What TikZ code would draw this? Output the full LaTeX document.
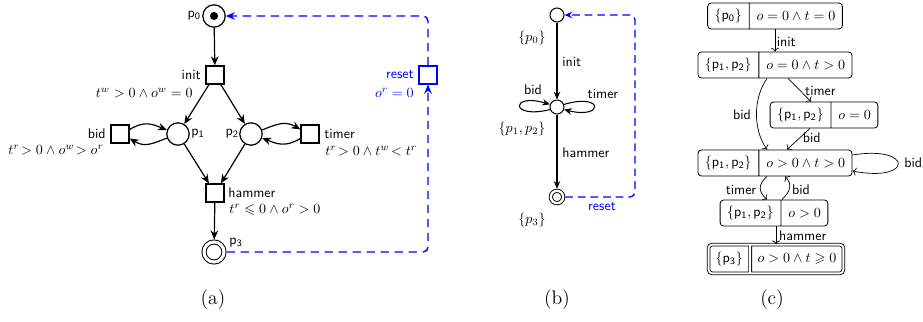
\documentclass[tikz,border=0pt]{standalone}
\usepackage{amssymb}
\usetikzlibrary{arrows.meta,shapes.multipart,calc}
\begin{document}
\begin{tikzpicture}[x=0.7143pt,y=-0.7143pt,
  lbl/.style={inner sep=0pt,font=\sffamily},
  guard/.style={inner sep=0pt},
  place/.style={circle,draw,line width=0.9pt,minimum size=16pt,inner sep=0pt},
  finalplace/.style={circle,draw,line width=0.7pt,double,double distance=2.2pt,minimum size=14.3pt,inner sep=0pt,outer sep=1.8pt},
  trans/.style={rectangle,draw,line width=0.9pt,minimum size=12.9pt,inner sep=0pt},
  arr/.style={line width=0.85pt,-{Stealth[length=6.5pt,width=5.5pt,inset=2.2pt]}},
  resetarr/.style={blue,line width=1pt,dash pattern=on 6pt off 4pt,rounded corners=3.5pt,-{Stealth[length=6.5pt,width=5.5pt,inset=2.2pt]}},
  state/.style={circle,draw,line width=0.75pt,minimum size=10pt,inner sep=0pt},
  finalstate/.style={circle,draw,line width=0.65pt,double,double distance=1.7pt,minimum size=8.8pt,inner sep=0pt,outer sep=1.5pt},
  sarr/.style={line width=0.75pt,-{Stealth[length=5.5pt,width=4.6pt,inset=1.8pt]}},
  sresetarr/.style={blue,line width=0.9pt,dash pattern=on 5.5pt off 3.5pt,rounded corners=3.5pt,-{Stealth[length=5.5pt,width=4.6pt,inset=1.8pt]}},
  zone/.style={rectangle split,rectangle split horizontal,rectangle split parts=2,draw,
    rounded corners=2.5pt,minimum height=18.6pt,inner xsep=5pt,inner ysep=0pt,line width=0.6pt},
  zarr/.style={line width=0.5pt,->},
  captext/.style={inner sep=0pt,font=\fontsize{14}{16}\selectfont}
]
\useasboundingbox (0,0) rectangle (923,322);

% ---------------- (a) Petri net ----------------
\node[place] (p0) at (214,16) {};
\fill (p0) circle (2.9pt);
\node[trans] (init) at (215,75) {};
\node[place] (p1) at (178,134) {};
\node[place] (p2) at (251,134) {};
\node[trans] (bid) at (120,134) {};
\node[trans] (timer) at (310,134) {};
\node[trans] (hammer) at (215,193) {};
\node[finalplace] (p3) at (214,252) {};
\node[trans,draw=blue] (reset) at (428,75) {};

\node[lbl,anchor=east] (lp0) at (201,16) {$\mathsf{p}_{\mathsf{0}}$};
\node[lbl,anchor=east] (linit) at (201,75) {init};
\node[guard,anchor=east] (ginit) at (193,93) {$t^w > 0 \wedge o^w = 0$};
\node[lbl,anchor=east] (lbid) at (106,134) {bid};
\node[guard,anchor=east] (gbid) at (104,150) {$t^r\! > 0 \wedge o^w\! > o^r$};
\node[lbl,anchor=west] (lp1) at (191,134) {$\mathsf{p}_{\mathsf{1}}$};
\node[lbl,anchor=east] (lp2) at (239,134) {$\mathsf{p}_{\mathsf{2}}$};
\node[lbl,anchor=west] (ltimer) at (324,134) {timer};
\node[guard,anchor=west] (gtimer) at (325,151) {$t^r\! > 0 \wedge t^w\! < t^r$};
\node[lbl,anchor=west] (lhammer) at (228,193) {hammer};
\node[guard,anchor=west] (ghammer) at (229,210) {$t^r \leqslant 0 \wedge o^r > 0$};
\node[lbl,anchor=west] (lp3) at (229,243) {$\mathsf{p}_{\mathsf{3}}$};
\node[lbl,anchor=east,text=blue] (lreset) at (414,75) {reset};
\node[guard,anchor=east,text=blue] (greset) at (414,93) {$o^r = 0$};

\draw[arr] (p0) -- (init);
\draw[arr] (init) -- (p1);
\draw[arr] (init) -- (p2);
\draw[arr] (p1) -- (hammer);
\draw[arr] (p2) -- (hammer);
\draw[arr] (hammer) -- (p3);
\draw[arr] (bid.25) .. controls +(15,-9) and +(-15,-6) .. (p1.160);
\draw[arr] (p1.200) .. controls +(-15,6) and +(15,9) .. (bid.-25);
\draw[arr] (p2.20) .. controls +(15,-6) and +(-15,-9) .. (timer.155);
\draw[arr] (timer.205) .. controls +(-15,9) and +(15,6) .. (p2.-20);
\draw[resetarr] (p3) -- (reset |- p3) -- (reset);
\draw[resetarr] (reset) -- (reset |- p0) -- (p0);

% ---------------- (b) automaton ----------------
\node[state] (s0) at (557,15) {};
\node[state] (s1) at (557,107) {};
\node[finalstate] (s3) at (557,197) {};
\coordinate (bturn) at (635,15);

\node[guard] (ls0) at (532,38) {$\{p_0\}$};
\node[guard] (ls1) at (522,129) {$\{p_1,p_2\}$};
\node[guard] (ls3) at (532,220) {$\{p_3\}$};
\node[lbl,anchor=west] (binit) at (562,62) {init};
\node[lbl] (bbid) at (533,90) {bid};
\node[lbl] (btimer) at (603,94) {timer};
\node[lbl,anchor=west] (bhammer) at (562,153) {hammer};
\node[lbl,text=blue] (breset) at (602,207) {reset};

\draw[sarr] (s0) -- (s1);
\draw[sarr] (s1) -- (s3);
\draw[sarr] (s1.200) .. controls +(-40,10) and +(-40,-12) .. (s1.160);
\draw[sarr] (s1.20) .. controls +(40,-12) and +(40,10) .. (s1.-20);
\draw[sresetarr] (s3) -- (s3 -| bturn) -- (bturn) -- (s0);

% ---------------- (c) zone graph ----------------
\node[zone] (c0) at (775,16) {$\{\mathsf{p}_{\mathsf{0}}\}$\nodepart{two}$o=0\wedge t=0$};
\node[zone] (c1) at (775,65) {$\{\mathsf{p}_{\mathsf{1}},\mathsf{p}_{\mathsf{2}}\}$\nodepart{two}$o=0\wedge t>0$};
\node[zone] (c2) at (824,115) {$\{\mathsf{p}_{\mathsf{1}},\mathsf{p}_{\mathsf{2}}\}$\nodepart{two}$o=0$};
\node[zone] (c3) at (775,163) {$\{\mathsf{p}_{\mathsf{1}},\mathsf{p}_{\mathsf{2}}\}$\nodepart{two}$o>0\wedge t>0$};
\node[zone] (c4) at (774,213) {$\{\mathsf{p}_{\mathsf{1}},\mathsf{p}_{\mathsf{2}}\}$\nodepart{two}$o>0$};
\node[zone,double,double distance=1.4pt,minimum height=20.5pt] (c5) at (776,259) {$\{\mathsf{p}_{\mathsf{3}}\}$\nodepart{two}$o>0\wedge t\geqslant 0$};

\draw[zarr] (c0) -- (c1) node[lbl,anchor=west,pos=0.55,xshift=1pt] (zinit) {init};
\draw[zarr] ($(c1.south)+(13,0)$) -- ($(c2.north)+(-13,0)$) node[lbl,anchor=west,pos=0.55,xshift=3pt] (ztimer) {timer};
\draw[zarr] ($(c1.south)+(-8,0)$) .. controls +(-14,20) and +(-14,-20) .. ($(c3.north)+(-8,0)$);
\node[lbl] (zbid1) at (742,115) {bid};
\draw[zarr] ($(c2.south)+(-14,0)$) -- ($(c3.north)+(12,0)$) node[lbl,anchor=west,pos=0.45,xshift=2pt] (zbid2) {bid};
\draw[zarr] ($(c3.east)+(0,-8)$) .. controls +(61,-10) and +(61,12) .. ($(c3.east)+(0,8)$);
\node[lbl,anchor=west] (zbid3) at (904,163) {bid};
\draw[zarr] ($(c3.south)+(-8,0)$) .. controls +(-9,8) and +(-9,-8) .. ($(c4.north)+(-7,0)$);
\node[lbl] (ztimer2) at (741,190) {timer};
\draw[zarr] ($(c4.north)+(8,0)$) .. controls +(8,-8) and +(8,8) .. ($(c3.south)+(10,0)$);
\node[lbl] (zbid4) at (801,190) {bid};
\draw[zarr] (c4.south -| c5.north) -- (c5.north) node[lbl,anchor=west,pos=0.5,xshift=2pt] (zhammer) {hammer};

% ---------------- captions ----------------
\node[captext] (capa) at (213,300) {(a)};
\node[captext] (capb) at (557,300) {(b)};
\node[captext] (capc) at (772,300) {(c)};
\end{tikzpicture}
\end{document}
